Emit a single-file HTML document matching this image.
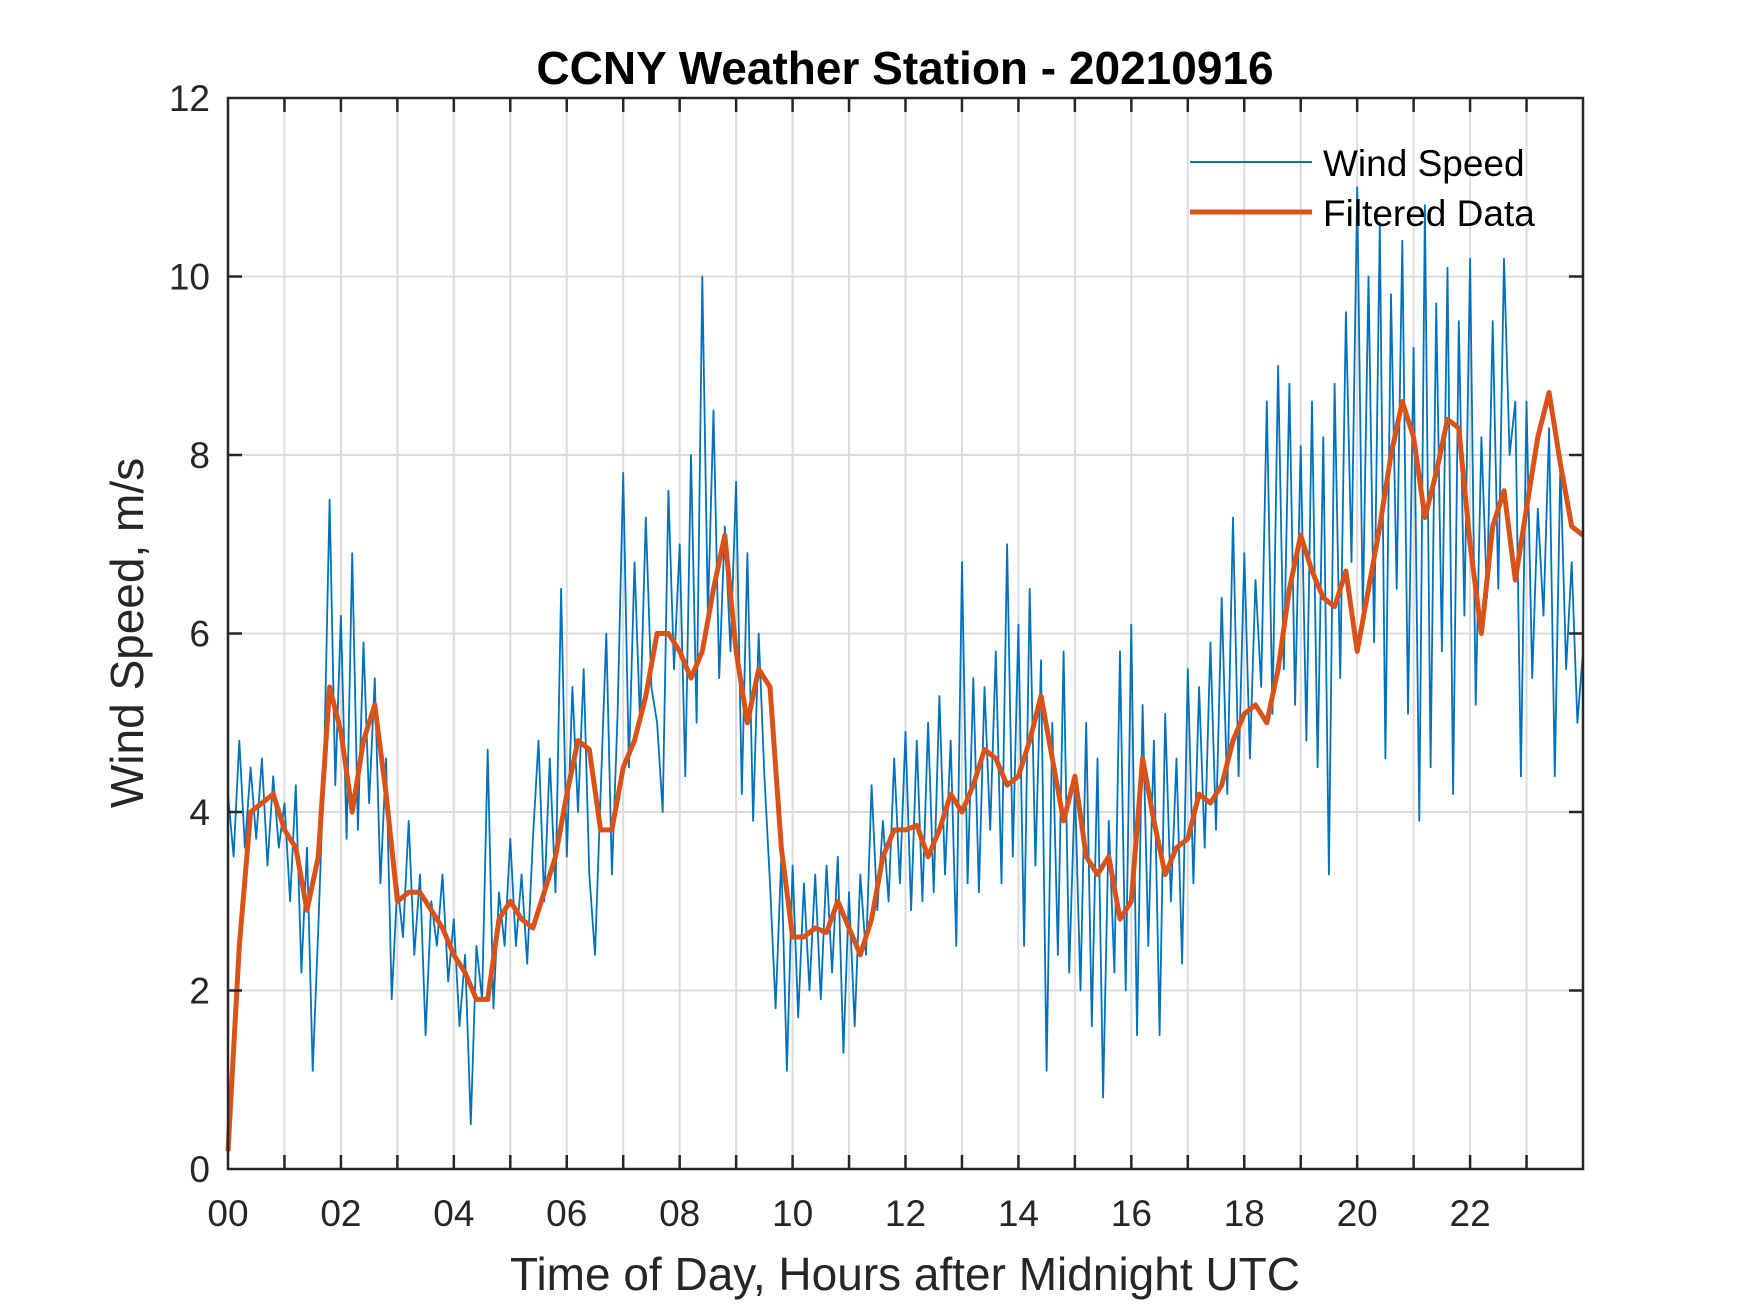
<!DOCTYPE html>
<html><head><meta charset="utf-8">
<style>
html,body{margin:0;padding:0;background:#fff;}
svg{display:block;}
text{font-family:"Liberation Sans",Arial,sans-serif;fill:#262626;}
</style></head>
<body>
<svg id="chart" width="1750" height="1313" viewBox="0 0 1750 1313" xmlns="http://www.w3.org/2000/svg">
<rect width="1750" height="1313" fill="#fff"/>
<g id="grid"></g>
<g id="series"></g>
<g id="axes"></g>
<text x="905" y="84" text-anchor="middle" font-size="46" font-weight="bold" style="fill:#000">CCNY Weather Station - 20210916</text>
<text x="905" y="1290" text-anchor="middle" font-size="46">Time of Day, Hours after Midnight UTC</text>
<text transform="translate(143,633) rotate(-90)" text-anchor="middle" font-size="46">Wind Speed, m/s</text>
<g>
<line x1="1190" y1="162" x2="1312" y2="162" stroke="#0072BD" stroke-width="2"/>
<text x="1323" y="176" font-size="37" style="fill:#000">Wind Speed</text>
<line x1="1190" y1="212" x2="1312" y2="212" stroke="#D95319" stroke-width="5"/>
<text x="1323" y="226" font-size="37" style="fill:#000">Filtered Data</text>
</g>
</svg>
<script>
const xTickLabels = ["00","02","04","06","08","10","12","14","16","18","20","22"];
const yTickLabels = ["0","2","4","6","8","10","12"];
const rawStep = 0.1;
const rawSpeed = [
4.2,3.5,4.8,3.6,4.5,3.7,4.6,3.4,4.4,3.6,
4.1,3.0,4.3,2.2,3.6,1.1,2.7,4.5,7.5,4.3,
6.2,3.7,6.9,3.8,5.9,4.1,5.5,3.2,4.6,1.9,
3.2,2.6,3.9,2.4,3.3,1.5,3.0,2.5,3.3,2.1,
2.8,1.6,2.4,0.5,2.5,1.9,4.7,1.8,3.1,2.5,
3.7,2.5,3.3,2.3,3.7,4.8,3.0,4.6,3.1,6.5,
3.5,5.4,4.0,5.6,3.3,2.4,4.2,6.0,3.3,5.1,
7.8,4.5,6.8,5.0,7.3,5.4,5.0,4.0,7.6,5.6,
7.0,4.4,8.0,5.0,10.0,6.2,8.5,5.5,7.2,5.8,
7.7,4.2,6.9,3.9,6.0,4.4,3.2,1.8,3.5,1.1,
3.4,1.7,3.2,2.0,3.3,1.9,3.4,2.2,3.5,1.3,
3.1,1.6,3.3,2.4,4.3,2.9,3.9,3.0,4.6,3.2,
4.9,2.9,4.8,3.0,5.0,3.1,5.3,3.3,4.8,2.5,
6.8,3.2,5.5,3.1,5.4,3.8,5.8,3.2,7.0,3.5,
6.1,2.5,6.5,3.4,5.7,1.1,5.0,2.4,5.8,2.2,
4.3,2.0,5.0,1.6,4.6,0.8,3.9,2.2,5.8,2.0,
6.1,1.5,5.2,2.5,4.8,1.5,5.1,3.0,4.6,2.3,
5.6,3.2,5.4,3.6,5.9,3.8,6.4,4.2,7.3,4.4,
6.9,4.6,6.6,5.4,8.6,5.1,9.0,5.6,8.8,5.2,
8.1,4.8,8.6,4.5,8.2,3.3,8.8,5.5,9.6,6.8,
11.0,6.2,10.0,5.9,10.6,4.6,9.8,6.5,10.4,5.1,
9.2,3.9,10.8,4.5,9.7,5.8,10.1,4.2,9.5,6.2,
10.2,5.2,8.2,6.4,9.5,6.5,10.2,8.0,8.6,4.4,
8.6,5.5,7.4,6.2,8.3,4.4,7.9,5.6,6.8,5.0,
5.8];
const filtStep = 0.2;
const filtered = [
0.2,2.5,4.0,4.1,4.2,3.8,3.6,2.9,3.5,5.4,4.9,4.0,4.8,5.2,4.2,
3.0,3.1,3.1,2.9,2.7,2.4,2.2,1.9,1.9,2.8,3.0,2.8,2.7,3.1,3.5,
4.2,4.8,4.7,3.8,3.8,4.5,4.8,5.3,6.0,6.0,5.8,5.5,5.8,6.5,7.1,
5.8,5.0,5.6,5.4,3.6,2.6,2.6,2.7,2.65,3.0,2.7,2.4,2.8,3.5,3.8,
3.8,3.85,3.5,3.8,4.2,4.0,4.3,4.7,4.6,4.3,4.4,4.8,5.3,4.6,3.9,
4.4,3.5,3.3,3.5,2.8,3.0,4.6,3.9,3.3,3.6,3.7,4.2,4.1,4.3,4.8,
5.1,5.2,5.0,5.6,6.5,7.1,6.7,6.4,6.3,6.7,5.8,6.5,7.2,8.0,8.6,
8.2,7.3,7.8,8.4,8.3,7.0,6.0,7.2,7.6,6.6,7.4,8.2,8.7,7.9,7.2,7.1];

const X0=228, X1=1583, Y0=1169, Y1=98;
const xScale = t => X0 + (t/24)*(X1-X0);
const yScale = v => Y0 - (v/12)*(Y0-Y1);
const NS="http://www.w3.org/2000/svg";
function mk(tag, parent){const e=document.createElementNS(NS,tag);parent.appendChild(e);return e;}
const grid=document.getElementById('grid'), axes=document.getElementById('axes'), series=document.getElementById('series');

for(let h=1;h<24;h++){
  const l=mk('line',grid);
  
  
  l.setAttribute('x1',xScale(h));l.setAttribute('x2',xScale(h));l.setAttribute('y1',Y1);l.setAttribute('y2',Y0);
  l.setAttribute('stroke','#dcdcdc');l.setAttribute('stroke-width','2');
}
yTickLabels.forEach((lab,i)=>{
  const v=+lab; if(v===0||v===12) return;
  const l=mk('line',grid);
  
  
  l.setAttribute('x1',X0);l.setAttribute('x2',X1);l.setAttribute('y1',yScale(v));l.setAttribute('y2',yScale(v));
  l.setAttribute('stroke','#dcdcdc');l.setAttribute('stroke-width','2');
});

let d='';
rawSpeed.forEach((v,i)=>{d+=(i?'L':'M')+xScale(i*rawStep).toFixed(1)+' '+yScale(v).toFixed(1);});
const raw=mk('path',series);


raw.setAttribute('d',d);raw.setAttribute('fill','none');raw.setAttribute('stroke','#0072BD');raw.setAttribute('stroke-width','1.8');raw.setAttribute('stroke-linejoin','round');

d='';
filtered.forEach((v,i)=>{d+=(i?'L':'M')+xScale(i*filtStep).toFixed(1)+' '+yScale(v).toFixed(1);});
const fl=mk('path',series);


fl.setAttribute('d',d);fl.setAttribute('fill','none');fl.setAttribute('stroke','#D95319');fl.setAttribute('stroke-width','5');fl.setAttribute('stroke-linejoin','round');

const box=mk('rect',axes);


box.setAttribute('x',X0);box.setAttribute('y',Y1);box.setAttribute('width',X1-X0);box.setAttribute('height',Y0-Y1);
box.setAttribute('fill','none');box.setAttribute('stroke','#262626');box.setAttribute('stroke-width','2.5');

for(let h=1;h<24;h++){
  [[Y0,Y0-14],[Y1,Y1+14]].forEach(p=>{
    const t=mk('line',axes);
    
    
    t.setAttribute('x1',xScale(h));t.setAttribute('x2',xScale(h));t.setAttribute('y1',p[0]);t.setAttribute('y2',p[1]);
    t.setAttribute('stroke','#262626');t.setAttribute('stroke-width','2.5');
  });
}
xTickLabels.forEach(lab=>{
  const t=mk('text',axes);
  
  
  t.setAttribute('x',xScale(+lab));t.setAttribute('y',Y0+57);t.setAttribute('text-anchor','middle');t.setAttribute('font-size','37');
  t.textContent=lab;
});
yTickLabels.forEach(lab=>{
  const v=+lab;
  if(v!==0&&v!==12){
    [[X0,X0+14],[X1,X1-14]].forEach(p=>{
      const t=mk('line',axes);
      
      
      t.setAttribute('x1',p[0]);t.setAttribute('x2',p[1]);t.setAttribute('y1',yScale(v));t.setAttribute('y2',yScale(v));
      t.setAttribute('stroke','#262626');t.setAttribute('stroke-width','2.5');
    });
  }
  const t=mk('text',axes);
  
  
  t.setAttribute('x',X0-18);t.setAttribute('y',yScale(v)+13);t.setAttribute('text-anchor','end');t.setAttribute('font-size','37');
  t.textContent=lab;
});
</script>
</body></html>
